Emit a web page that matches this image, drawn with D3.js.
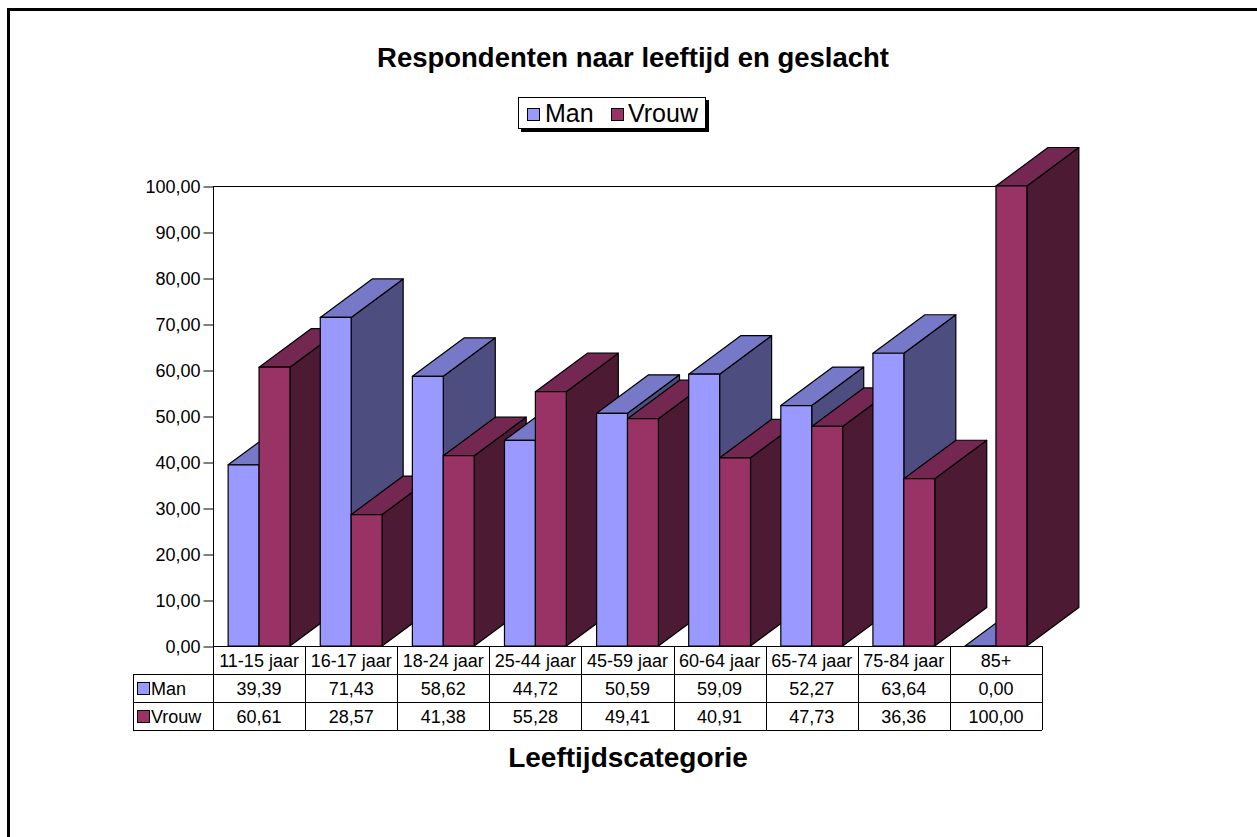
<!DOCTYPE html>
<html><head><meta charset="utf-8">
<script src="https://cdn.jsdelivr.net/npm/d3@7"></script>
<style>
html,body{margin:0;padding:0;background:#fff;}
svg{display:block;font-family:"Liberation Sans",Arial,sans-serif;}
</style></head>
<body>
<script>
const categories = ["11-15 jaar","16-17 jaar","18-24 jaar","25-44 jaar","45-59 jaar","60-64 jaar","65-74 jaar","75-84 jaar","85+"];
const seriesNames = ["Man","Vrouw"];
const manValues = [39.39,71.43,58.62,44.72,50.59,59.09,52.27,63.64,0.00];
const vrouwValues = [60.61,28.57,41.38,55.28,49.41,40.91,47.73,36.36,100.00];
const yTicks = [0,10,20,30,40,50,60,70,80,90,100];
const title = "Respondenten naar leeftijd en geslacht";
const xTitle = "Leeftijdscategorie";

const W = 1257, H = 837;
const colors = {
  Man:   {front:"#9999FF", top:"#7878C8", side:"#4D4D80"},
  Vrouw: {front:"#993366", top:"#742750", side:"#4D1A33"}
};
const seriesValues = {Man: manValues, Vrouw: vrouwValues};
const fmt = v => d3.format(".2f")(v).replace(".", ",");

const svg = d3.select("body").append("svg").attr("width", W).attr("height", H);

// outer frame
svg.append("rect").attr("x",8.5).attr("y",9.5).attr("width",1400).attr("height",1000)
  .attr("fill","none").attr("stroke","#000").attr("stroke-width",3);

// title
svg.append("text").attr("x",633).attr("y",67).attr("text-anchor","middle")
  .attr("font-size",27.5).attr("font-weight","bold").text(title);

// legend
const lg = svg.append("g");
lg.append("rect").attr("x",521).attr("y",100).attr("width",188).attr("height",32).attr("fill","#000");
lg.append("rect").attr("x",518.5).attr("y",97.5).attr("width",187).attr("height",31).attr("fill","#fff").attr("stroke","#000").attr("stroke-width",1);
const legItems = [{name:"Man", sx:527, tx:545},{name:"Vrouw", sx:611, tx:628}];
legItems.forEach(it=>{
  lg.append("rect").attr("x",it.sx+0.5).attr("y",108.5).attr("width",12).attr("height",12)
    .attr("fill",colors[it.name].front).attr("stroke","#000").attr("stroke-width",1);
  lg.append("text").attr("x",it.tx).attr("y",122).attr("font-size",25).text(it.name);
});

// scales
const x0 = 213, x1 = 1042, yBase = 646, yTop = 186;
const x = d3.scaleBand().domain(categories).range([x0,x1]).paddingInner(0).paddingOuter(0);
const xs = d3.scaleBand().domain(seriesNames).range([0,x.bandwidth()]).paddingInner(0).paddingOuter(0.49);
const y = d3.scaleLinear().domain([0,100]).range([yBase,yTop]);
const dx = 52, dy = -38.5;

// plot top line and y axis
svg.append("line").attr("x1",x0).attr("x2",x1).attr("y1",yTop+0.5).attr("y2",yTop+0.5).attr("stroke","#000");
const yAxis = d3.axisLeft(y).tickValues(yTicks).tickSize(10).tickPadding(3).tickFormat(fmt);
const yg = svg.append("g").attr("transform",`translate(${x0+0.5},0.5)`).call(yAxis);
yg.select(".domain").remove();
yg.selectAll("text").attr("font-size",18).attr("font-family","Liberation Sans, Arial, sans-serif").attr("fill","#000").attr("dy","0.36em");
yg.selectAll("line").attr("stroke","#000");
svg.append("line").attr("x1",x0+0.5).attr("x2",x0+0.5).attr("y1",yTop).attr("y2",730).attr("stroke","#000");

// bars (painter's order: left to right)
const bars = [];
categories.forEach((c,i)=>{
  seriesNames.forEach(s=>{
    bars.push({cat:c, series:s, value:seriesValues[s][i]});
  });
});
const bg = svg.append("g").attr("stroke","#000").attr("stroke-width",1.2).attr("stroke-linejoin","round");
bars.forEach(b=>{
  const L = x(b.cat) + xs(b.series), R = L + xs.bandwidth();
  const T = y(b.value), B = y(0);
  const col = colors[b.series];
  // side
  bg.append("path").attr("fill",col.side)
    .attr("d",`M${R},${B}L${R+dx},${B+dy}L${R+dx},${T+dy}L${R},${T}Z`);
  // top
  bg.append("path").attr("fill",col.top)
    .attr("d",`M${L},${T}L${L+dx},${T+dy}L${R+dx},${T+dy}L${R},${T}Z`);
  // front
  bg.append("path").attr("fill",col.front)
    .attr("d",`M${L},${B}L${L},${T}L${R},${T}L${R},${B}Z`);
});

// data table
const tg = svg.append("g");
const rowTop = [646,674,702,730];
const lineC = "#000";
tg.append("line").attr("x1",x0).attr("x2",x1).attr("y1",rowTop[0]+0.5).attr("y2",rowTop[0]+0.5).attr("stroke",lineC);
[1,2,3].forEach(r=>{
  tg.append("line").attr("x1",133).attr("x2",x1).attr("y1",rowTop[r]+0.5).attr("y2",rowTop[r]+0.5).attr("stroke",lineC);
});
categories.forEach((c,i)=>{
  const xx = Math.round(x(c)+x.bandwidth())+0.5;
  tg.append("line").attr("x1",xx).attr("x2",xx).attr("y1",rowTop[0]).attr("y2",rowTop[3]).attr("stroke",lineC);
});
tg.append("line").attr("x1",133.5).attr("x2",133.5).attr("y1",rowTop[1]).attr("y2",rowTop[3]).attr("stroke",lineC);
categories.forEach(c=>{
  tg.append("text").attr("x",x(c)+x.bandwidth()/2).attr("y",667).attr("text-anchor","middle")
    .attr("font-size",18).text(c);
});
seriesNames.forEach((s,ri)=>{
  const base = rowTop[ri+1];
  tg.append("rect").attr("x",137.5).attr("y",base+8.5).attr("width",12).attr("height",12)
    .attr("fill",colors[s].front).attr("stroke","#000");
  tg.append("text").attr("x",151).attr("y",base+21).attr("font-size",18).text(s);
  seriesValues[s].forEach((v,i)=>{
    tg.append("text").attr("x",x(categories[i])+x.bandwidth()/2).attr("y",base+21)
      .attr("text-anchor","middle").attr("font-size",18).text(fmt(v));
  });
});

// x title
svg.append("text").attr("x",628).attr("y",767).attr("text-anchor","middle")
  .attr("font-size",28).attr("font-weight","bold").text(xTitle);
</script>
</body></html>
